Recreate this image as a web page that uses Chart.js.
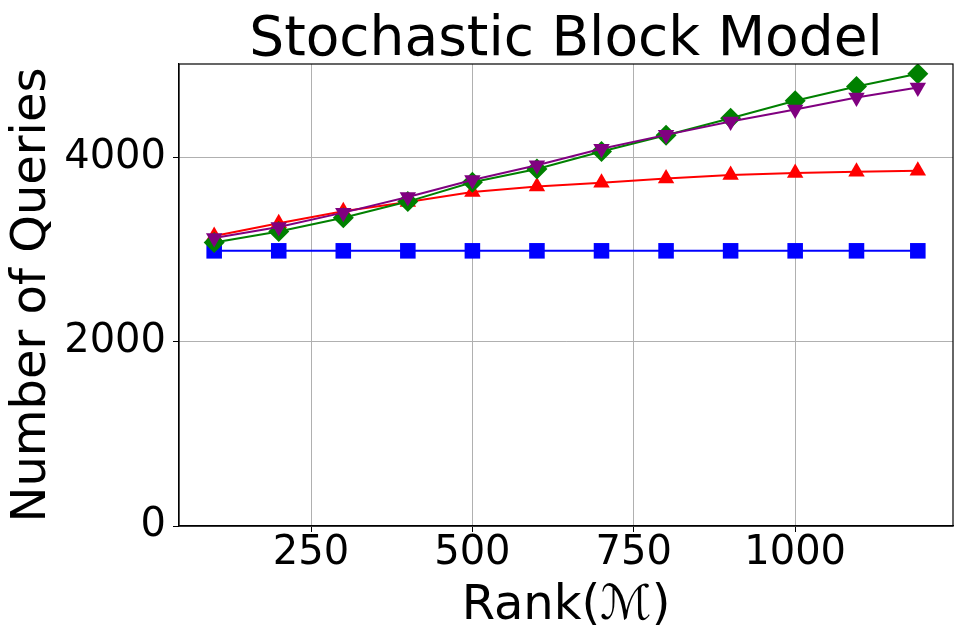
<!DOCTYPE html>
<html>
<head>
<meta charset="utf-8">
<script src="https://cdn.jsdelivr.net/npm/chart.js@4.4.1/dist/chart.umd.min.js"></script>
<style>
  html, body { margin: 0; padding: 0; background: #fff; }
  #wrap { width: 964px; height: 641px; }
</style>
</head>
<body>
<div id="wrap"><canvas id="sbmChart" width="964" height="641"></canvas></div>
<script>
// data
const rankValues = [100, 200, 300, 400, 500, 600, 700, 800, 900, 1000, 1095, 1190];
const blueQueries = [2990, 2990, 2990, 2990, 2990, 2990, 2990, 2990, 2990, 2990, 2990, 2990];
const redQueries = [3150, 3290, 3420, 3520, 3630, 3690, 3730, 3775, 3815, 3835, 3850, 3860];
const greenQueries = [3080, 3200, 3350, 3525, 3735, 3880, 4070, 4245, 4430, 4620, 4775, 4915];
const purpleQueries = [3130, 3250, 3405, 3575, 3760, 3920, 4100, 4250, 4395, 4525, 4655, 4765];

const xTicks = [250, 500, 750, 1000];
const yTicks = [0, 2000, 4000];

const chartTitle = 'Stochastic Block Model';
const FONT = "'DejaVu Sans', sans-serif";

function toPoints(values) {
    return rankValues.map((r, i) => ({ x: r, y: values[i] }));
}

function makeSeries(values, color, style, radius, rotation, order) {
    return {
        data: toPoints(values),
        borderColor: color,
        backgroundColor: color,
        borderWidth: 2,
        pointStyle: style,
        pointRadius: radius,
        pointHoverRadius: radius,
        pointRotation: rotation,
        pointBorderWidth: 0,
        tension: 0,
        order: order
    };
}

// black box round the plot area, and the title centred over it (like matplotlib)
const frameAndTitle = {
    id: 'frameAndTitle',
    afterDraw(chart) {
        const { ctx, chartArea } = chart;
        ctx.save();
        ctx.strokeStyle = '#000';
        ctx.lineWidth = 1.2;
        ctx.strokeRect(chartArea.left, chartArea.top,
            chartArea.right - chartArea.left, chartArea.bottom - chartArea.top);

        ctx.fillStyle = '#000';
        ctx.font = "55px " + FONT;
        ctx.textAlign = 'center';
        ctx.textBaseline = 'alphabetic';
        ctx.fillText(chartTitle, (chartArea.left + chartArea.right) / 2, 55);
        ctx.restore();
    }
};

new Chart(document.getElementById('sbmChart'), {
    type: 'line',
    data: {
        datasets: [
            makeSeries(blueQueries, '#0000ff', 'rect', 11, 0, 4),
            makeSeries(redQueries, '#ff0000', 'triangle', 9.5, 0, 3),
            makeSeries(greenQueries, '#008000', 'rectRot', 10.5, 0, 2),
            makeSeries(purpleQueries, '#800080', 'triangle', 9.5, 180, 1)
        ]
    },
    options: {
        responsive: false,
        animation: false,
        devicePixelRatio: 1,
        layout: { padding: { top: 64, left: 0, right: 10, bottom: 0 } },
        plugins: {
            legend: { display: false },
            tooltip: { enabled: false },
            title: { display: false }
        },
        scales: {
            x: {
                type: 'linear',
                min: 45.5,
                max: 1244.5,
                afterBuildTicks: s => { s.ticks = xTicks.map(v => ({ value: v })); },
                afterFit: s => { s.height = 115; },
                border: { display: true, color: '#000', width: 1.2 },
                grid: { color: '#b0b0b0', lineWidth: 1, tickColor: '#000', tickLength: 6 },
                ticks: {
                    color: '#000',
                    padding: -2,
                    maxRotation: 0,
                    font: { family: FONT, size: 40 },
                    callback: v => String(v)
                },
                title: {
                    display: true,
                    text: 'Rank(\u2133)',
                    color: '#000',
                    font: { family: FONT, size: 48, lineHeight: 1.2 },
                    padding: { top: 0, bottom: 6 }
                }
            },
            y: {
                type: 'linear',
                min: 0,
                max: 5020,
                afterBuildTicks: s => { s.ticks = yTicks.map(v => ({ value: v })); },
                afterFit: s => { s.width = 179; },
                border: { display: true, color: '#000', width: 1.2 },
                grid: { color: '#b0b0b0', lineWidth: 1, tickColor: '#000', tickLength: 6 },
                ticks: {
                    color: '#000',
                    padding: 7,
                    font: { family: FONT, size: 40 },
                    callback: v => String(v)
                },
                title: {
                    display: true,
                    text: 'Number of Queries',
                    color: '#000',
                    font: { family: FONT, size: 48, lineHeight: 1.2 },
                    padding: { top: 4, bottom: 0 }
                }
            }
        }
    },
    plugins: [frameAndTitle]
});
</script>
</body>
</html>
